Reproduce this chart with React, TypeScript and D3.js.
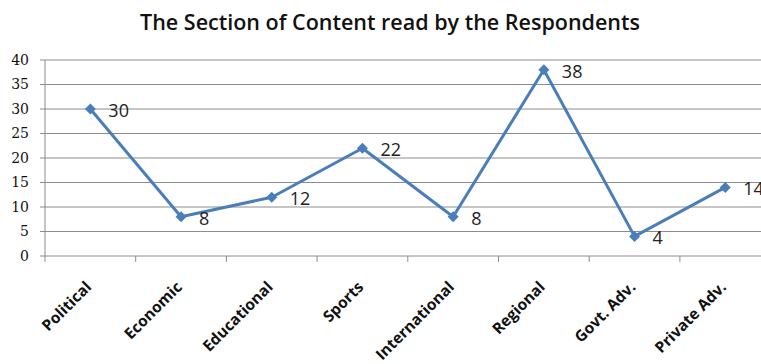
import React from "react";
import * as d3 from "d3";

const categories = [
  "Political",
  "Economic",
  "Educational",
  "Sports",
  "International",
  "Regional",
  "Govt. Adv.",
  "Private Adv.",
];
const values = [30, 8, 12, 22, 8, 38, 4, 14];
const yTicks = [0, 5, 10, 15, 20, 25, 30, 35, 40];
const title = "The Section of Content read by the Respondents";

const W = 761;
const H = 364;
const plotLeft = 45;
const plotTop = 60;
const plotBottom = 256;
const bandW = 90.7;

export default function App() {
  const x = d3
    .scaleBand<string>()
    .domain(categories)
    .range([plotLeft, plotLeft + bandW * categories.length]);
  const y = d3.scaleLinear().domain([0, 40]).range([plotBottom, plotTop]);
  const cx = (c: string) => (x(c) as number) + x.bandwidth() / 2;

  const line = d3
    .line<number>()
    .x((_, i) => cx(categories[i]))
    .y((d) => y(d));

  // square diamond marker
  const r = 5.5;
  const diamond = `M0,${-r}L${r},0L0,${r}L${-r},0Z`;
  const tickEdges = categories.map((c) => x(c) as number);

  return (
    <svg
      width={W}
      height={H}
      style={{ position: "absolute", left: 0, top: 0, background: "#fff" }}
    >
      <text
        x={390}
        y={30}
        textAnchor="middle"
        fontFamily="'Open Sans', sans-serif"
        fontWeight={600}
        fontSize={21.5}
        fill="#111"
      >
        {title}
      </text>

      {yTicks.map((t) => (
        <g key={t}>
          <line
            x1={plotLeft}
            x2={W}
            y1={y(t)}
            y2={y(t)}
            stroke="#8c8c8c"
            strokeWidth={1}
          />
          <line x1={plotLeft - 5} x2={plotLeft} y1={y(t)} y2={y(t)} stroke="#8c8c8c" />
          <text
            x={29}
            y={y(t)}
            dy="0.35em"
            textAnchor="end"
            fontFamily="'DejaVu Serif', serif"
            fontSize={14}
            fill="#111"
          >
            {t}
          </text>
        </g>
      ))}

      <line x1={plotLeft} x2={plotLeft} y1={plotTop} y2={plotBottom} stroke="#8c8c8c" />
      {tickEdges.map((e, i) => (
        <line key={i} x1={e} x2={e} y1={plotBottom} y2={plotBottom + 6} stroke="#8c8c8c" />
      ))}

      <path
        d={line(values) || ""}
        fill="none"
        stroke="#4a7ebb"
        strokeWidth={3}
        strokeLinejoin="round"
      />
      {values.map((v, i) => (
        <path
          key={i}
          d={diamond}
          transform={`translate(${cx(categories[i])},${y(v)})`}
          fill="#4a7ebb"
        />
      ))}
      {values.map((v, i) => (
        <text
          key={i}
          x={cx(categories[i]) + 18}
          y={y(v) + 1.5}
          dy="0.35em"
          fontFamily="'Open Sans', sans-serif"
          fontSize={18}
          fill="#222"
        >
          {v}
        </text>
      ))}

      {categories.map((c) => (
        <text
          key={c}
          transform={`translate(${cx(c) + 2},${plotBottom + 32}) rotate(-45)`}
          textAnchor="end"
          fontFamily="'Open Sans', sans-serif"
          fontWeight={700}
          fontSize={15.5}
          fill="#111"
        >
          {c}
        </text>
      ))}
    </svg>
  );
}
